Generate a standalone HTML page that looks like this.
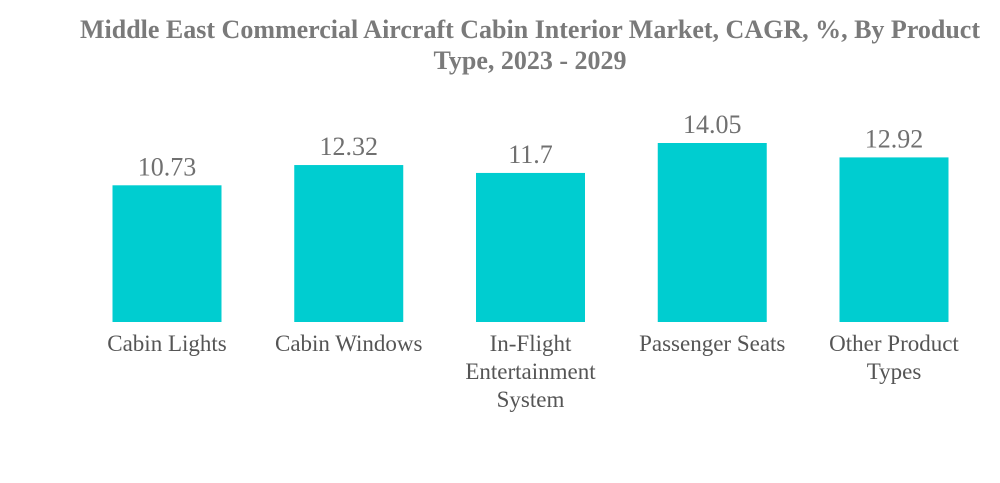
<!DOCTYPE html>
<html><head><meta charset="utf-8"><style>
body{margin:0;background:#fff;}
svg{display:block;font-family:"Liberation Serif",serif;}
</style></head><body>
<svg id="chart" width="1000" height="483">
<text x="530" y="38" text-anchor="middle" font-size="26" font-weight="bold" fill="#7a7a7a">Middle East Commercial Aircraft Cabin Interior Market, CAGR, %, By Product</text>
<text x="530" y="69" text-anchor="middle" font-size="26" font-weight="bold" fill="#7a7a7a">Type, 2023 - 2029</text>
<g id="bars"></g>
</svg>
<script>
const categories = [["Cabin Lights"],["Cabin Windows"],["In-Flight","Entertainment","System"],["Passenger Seats"],["Other Product","Types"]];
const values = [10.73, 12.32, 11.7, 14.05, 12.92];
const valueLabels = ["10.73","12.32","11.7","14.05","12.92"];
const NS="http://www.w3.org/2000/svg";
const g=document.getElementById('bars');
const baseY=322, scale=12.74, x0=167, step=181.75, bw=109;
function xPos(i){return x0+i*step;}
function yPos(v){return baseY-v*scale;}
values.forEach((v,i)=>{
  const r=document.createElementNS(NS,'rect');
  r.setAttribute('x',xPos(i)-bw/2);r.setAttribute('y',yPos(v));
  r.setAttribute('width',bw);r.setAttribute('height',baseY-yPos(v));
  r.setAttribute('fill','#00cdd0');
  
  
  g.appendChild(r);
  const t=document.createElementNS(NS,'text');
  t.setAttribute('x',xPos(i));t.setAttribute('y',yPos(v)-10);
  t.setAttribute('text-anchor','middle');t.setAttribute('font-size','26');t.setAttribute('fill','#707070');
  t.textContent=valueLabels[i];
  
  
  g.appendChild(t);
  categories[i].forEach((line,j)=>{
    const c=document.createElementNS(NS,'text');
    c.setAttribute('x',xPos(i));c.setAttribute('y',351+j*28);
    c.setAttribute('text-anchor','middle');c.setAttribute('font-size','23');c.setAttribute('fill','#555');
    c.textContent=line;
    
    
    g.appendChild(c);
  });
});
</script>
</body></html>
